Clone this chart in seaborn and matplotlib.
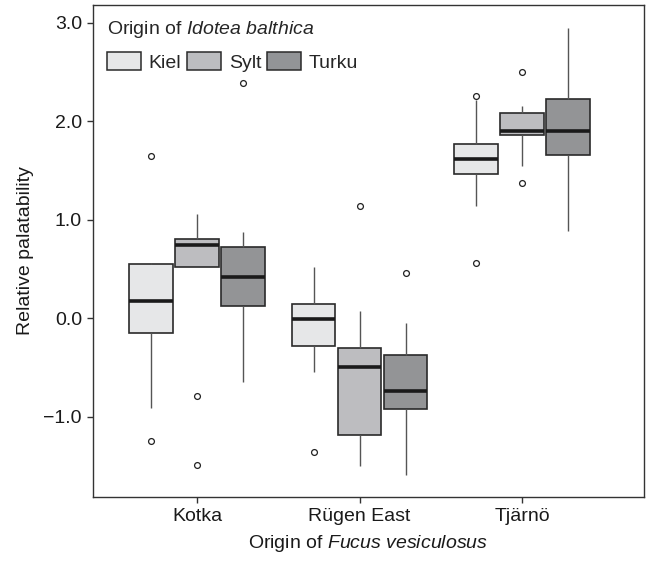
import numpy as np
import pandas as pd
import seaborn as sns
from matplotlib import pyplot as plt
from matplotlib.patches import Patch

# categories
sites = ['Kotka', 'Rügen East', 'Tjärnö']      # origin of Fucus vesiculosus
origins = ['Kiel', 'Sylt', 'Turku']            # origin of Idotea balthica

# relative palatability (one list per box)
kotka_kiel = [-1.25, -0.91, -0.40, -0.15, 0.00, 0.10, 0.17, 0.30, 0.45, 0.55, 0.555, 0.56, 1.65]
kotka_sylt = [-1.49, -0.79, 0.515, 0.515, 0.60, 0.70, 0.74, 0.76, 0.78, 0.80, 0.90, 1.00, 1.06]
kotka_turku = [-0.65, -0.30, 0.00, 0.125, 0.25, 0.35, 0.42, 0.55, 0.65, 0.72, 0.78, 0.87, 2.39]
ruegen_kiel = [-1.36, -0.55, -0.40, -0.28, -0.15, -0.05, -0.01, 0.05, 0.10, 0.14, 0.30, 0.45, 0.52]
ruegen_sylt = [-1.50, -1.35, -1.25, -1.185, -0.90, -0.65, -0.50, -0.42, -0.35, -0.30, -0.10, 0.07, 1.14]
ruegen_turku = [-1.59, -1.20, -1.00, -0.92, -0.85, -0.78, -0.74, -0.60, -0.45, -0.375, -0.20, -0.05, 0.46]
tjarno_kiel = [0.555, 1.14, 1.30, 1.46, 1.52, 1.58, 1.61, 1.68, 1.72, 1.765, 1.90, 2.21, 2.25]
tjarno_sylt = [1.37, 1.54, 1.70, 1.855, 1.88, 1.89, 1.90, 1.95, 2.02, 2.085, 2.10, 2.15, 2.50]
tjarno_turku = [0.88, 1.30, 1.55, 1.66, 1.75, 1.85, 1.90, 2.00, 2.15, 2.225, 2.40, 2.70, 2.94]

yticks = [-1, 0, 1, 2, 3]
ytick_labels = ['\u22121.0', '0.0', '1.0', '2.0', '3.0']

groups = {
    ('Kotka', 'Kiel'): kotka_kiel, ('Kotka', 'Sylt'): kotka_sylt, ('Kotka', 'Turku'): kotka_turku,
    ('Rügen East', 'Kiel'): ruegen_kiel, ('Rügen East', 'Sylt'): ruegen_sylt, ('Rügen East', 'Turku'): ruegen_turku,
    ('Tjärnö', 'Kiel'): tjarno_kiel, ('Tjärnö', 'Sylt'): tjarno_sylt, ('Tjärnö', 'Turku'): tjarno_turku,
}
rows = []
for (site, origin), vals in groups.items():
    for v in vals:
        rows.append({'Fucus': site, 'Idotea': origin, 'Palatability': v})
df = pd.DataFrame(rows)

sns.set_theme(style="ticks")
plt.rcParams['font.family'] = ['Liberation Sans', 'DejaVu Sans']
plt.rcParams['mathtext.fontset'] = 'custom'
plt.rcParams['mathtext.rm'] = 'Liberation Sans'
plt.rcParams['mathtext.it'] = 'Liberation Sans:italic'

pallete = ['#e6e7e8', '#bcbdc0', '#929497']
edge = '#2a2a2a'

fig = plt.figure(figsize=(6.51, 5.64), dpi=100)
ax = fig.add_axes([93 / 651, 1 - 497 / 564, 551 / 651, 492 / 564])

sns.boxplot(data=df, x='Fucus', y='Palatability', hue='Idotea', order=sites, hue_order=origins,
            palette=pallete, width=0.85, gap=0.05, linecolor=edge, linewidth=1.2, whis=1.5,
            showcaps=False, legend=False, ax=ax,
            medianprops=dict(color='#1a1a1a', linewidth=2.6),
            whiskerprops=dict(color='#555555', linewidth=1.0),
            flierprops=dict(marker='o', markersize=4.2, markerfacecolor='white',
                            markeredgecolor='#222222', markeredgewidth=0.9))

ax.set_xlim(-0.64, 2.75)
ax.set_ylim(-1.817, 3.178)
ax.set_yticks(yticks)
ax.set_yticklabels(ytick_labels)
ax.tick_params(axis='both', labelsize=14, length=4.5, width=1, color='#333333', pad=3.5, labelcolor='#1a1a1a')
for s in ax.spines.values():
    s.set_color('#333333')
    s.set_linewidth(1)

ax.set_xlabel('Origin of $\\mathit{Fucus\\ vesiculosus}$', fontsize=14, color='#1a1a1a', labelpad=6)
ax.set_ylabel('Relative palatability', fontsize=14, color='#1a1a1a', labelpad=7)

handles = [Patch(facecolor=c, edgecolor=edge, linewidth=1.1) for c in pallete]
leg = ax.legend(handles, origins, title='Origin of $\\mathit{Idotea\\ balthica}$', ncol=3,
                frameon=False, loc='upper left', bbox_to_anchor=(0.0, 1.0), fontsize=14,
                title_fontsize=14, handlelength=1.75, handleheight=1.0, handletextpad=0.4,
                columnspacing=0.3, alignment='left', borderpad=0.3, borderaxespad=0.4,
                labelspacing=0.65)

plt.savefig('out.png', dpi=100)
